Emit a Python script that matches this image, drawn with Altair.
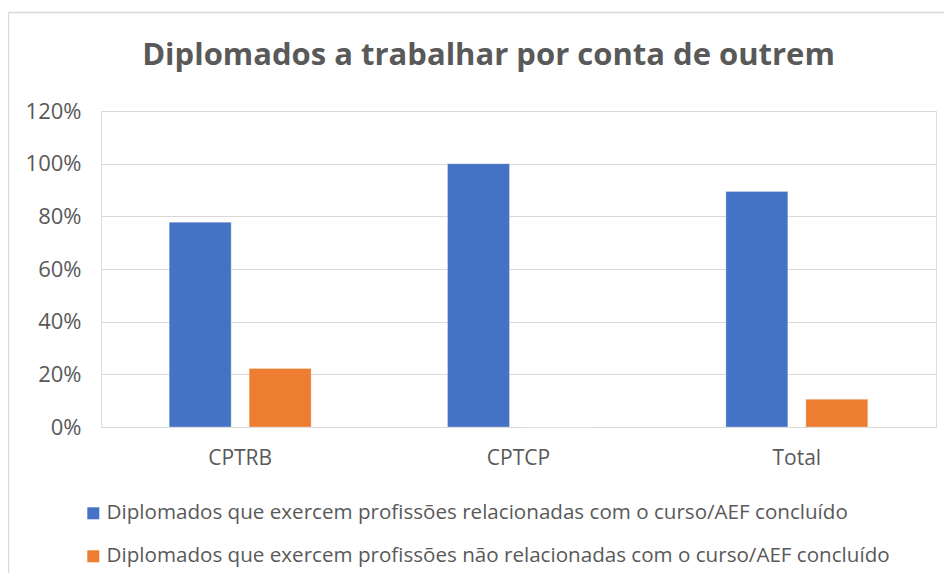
import altair as alt
import pandas as pd

categories = ["CPTRB", "CPTCP", "Total"]
series_names = [
    "Diplomados que exercem profissões relacionadas com o curso/AEF concluído",
    "Diplomados que exercem profissões não relacionadas com o curso/AEF concluído",
]
related = [0.7778, 1.0, 0.8947]
unrelated = [0.2222, 0.0, 0.1053]
colors = ["#4472C4", "#ED7D31"]
y_ticks = [0, 0.2, 0.4, 0.6, 0.8, 1.0, 1.2]

rows = []
for i, c in enumerate(categories):
    rows.append({"cat": c, "serie": series_names[0], "val": related[i]})
    rows.append({"cat": c, "serie": series_names[1], "val": unrelated[i]})
df = pd.DataFrame(rows)

FONT = "Open Sans"
GREY = "#595959"
W, H = 835, 316

bars = alt.Chart(df).mark_bar(stroke="#ffffff", strokeWidth=0.6, strokeOpacity=0.5).encode(
    x=alt.X("cat:N", sort=categories, title=None,
            scale=alt.Scale(paddingInner=0.49, paddingOuter=0.245),
            axis=alt.Axis(labelAngle=0, ticks=False, domain=False, labelPadding=20,
                          labelFontSize=21, labelColor=GREY, labelFont=FONT)),
    xOffset=alt.XOffset("serie:N", sort=series_names,
                        scale=alt.Scale(paddingInner=0.225, paddingOuter=0)),
    y=alt.Y("val:Q", title=None,
            scale=alt.Scale(domain=[0, 1.2], nice=False),
            axis=alt.Axis(values=y_ticks, format=".0%", ticks=False, domain=False,
                          labelPadding=20, labelFontSize=22, labelColor=GREY,
                          labelFont=FONT, gridColor="#d9d9d9", gridWidth=1)),
    color=alt.Color("serie:N", sort=series_names,
                    scale=alt.Scale(domain=series_names, range=colors),
                    legend=alt.Legend(title=None, orient="none", legendX=-18, legendY=392,
                                      direction="vertical", symbolType="square",
                                      symbolSize=144, symbolStrokeWidth=0,
                                      labelFontSize=20.6, labelColor=GREY, labelFont=FONT,
                                      labelLimit=900, rowPadding=22, labelOffset=3)),
)

frame_df = pd.DataFrame({"a": [0]})
frame_top = alt.Chart(frame_df).mark_rule(stroke="#d9d9d9", strokeWidth=1.5, clip=False).encode(
    x=alt.value(-92.5), x2=alt.value(W + 40), y=alt.value(-98.5),
)
frame_left = alt.Chart(frame_df).mark_rule(stroke="#d9d9d9", strokeWidth=1.5, clip=False).encode(
    x=alt.value(-92.5), y=alt.value(-98.5), y2=alt.value(H + 200),
)

chart = alt.layer(frame_top, frame_left, bars).properties(
    width=W, height=H,
    autosize=alt.AutoSizeParams(type="none"),
    padding={"left": 93, "top": 103, "right": 8, "bottom": 146},
    title=alt.Title("Diplomados a trabalhar por conta de outrem", fontSize=31,
                    font=FONT, fontWeight="bold", color=GREY, anchor="middle",
                    frame="group", baseline="alphabetic", dx=-30, offset=-84),
).configure_view(stroke=None).configure(background="white")

chart.save("out.html", embed_options={"renderer": "svg", "actions": False})
